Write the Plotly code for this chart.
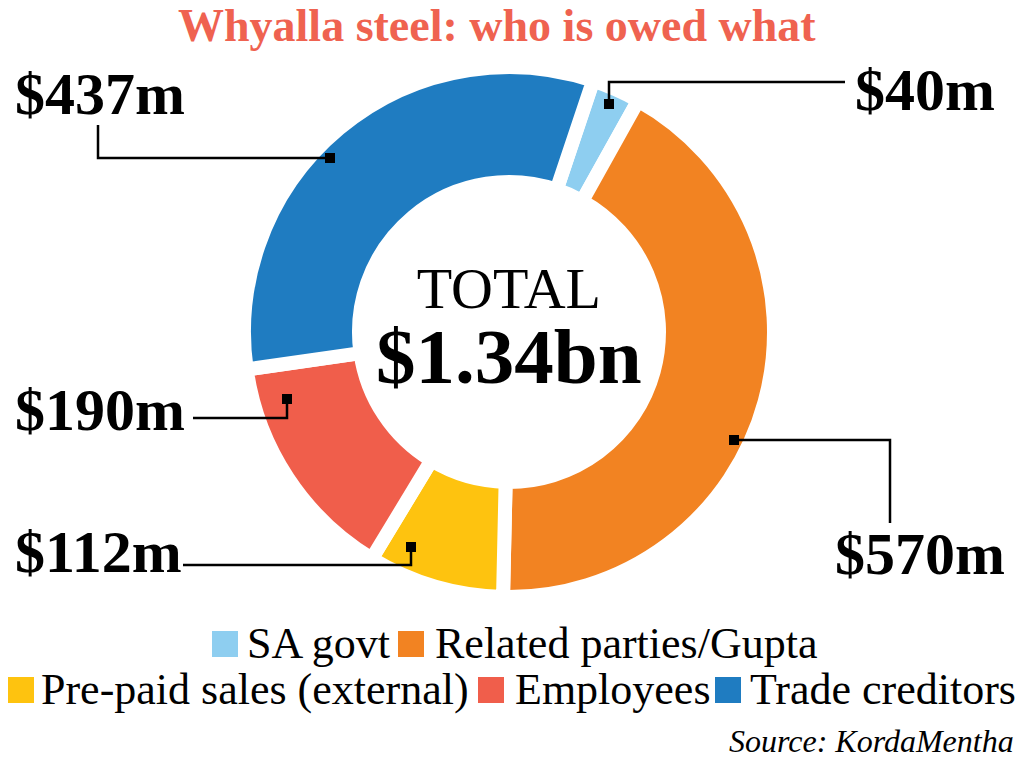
import plotly.graph_objects as go

# ---------------- data ----------------
categories = ["SA govt", "Related parties/Gupta", "Pre-paid sales (external)",
              "Employees", "Trade creditors"]
values_m = [40, 570, 112, 190, 437]
colors = ["#8ECEF0", "#F28322", "#FEC30F", "#F05E4B", "#1F7CC1"]
total_title = "TOTAL"
total_label = "$1.34bn"
title_text = "Whyalla steel: who is owed what"
source_text = "Source: KordaMentha"

# ---------------- layout constants (pixels, page coordinates) ----------------
OFF = 8                      # default page body margin
W, H = 1024 - 2 * OFF, 768 - 2 * OFF
SERIF = "Liberation Serif, Times New Roman, serif"


def pxx(x):
    return (x - OFF) / W


def pxy(y):
    return 1 - (y - OFF) / H


cx, cy, R = 509, 332, 265
hole = 0.566
gap = 14
rotation = 18.5

# leader lines: polyline points, label position (left x, center y)
leaders = {
    "SA govt": dict(pts=[(609, 104), (609, 82), (845, 82)], lab=(853, 90)),
    "Related parties/Gupta": dict(pts=[(734, 440), (890, 440), (890, 523)], lab=(833, 554)),
    "Pre-paid sales (external)": dict(pts=[(411, 547), (411, 565), (183, 565)], lab=(13, 552)),
    "Employees": dict(pts=[(287, 399), (287, 418), (193, 418)], lab=(13, 410)),
    "Trade creditors": dict(pts=[(330, 158), (98, 158), (98, 125)], lab=(13, 94)),
}

# legend layout: (square left x, text left x, row baseline y)
legend_pos = {
    "SA govt": (212, 246, 658),
    "Related parties/Gupta": (398, 434, 658),
    "Pre-paid sales (external)": (8, 40, 704),
    "Employees": (478, 514, 704),
    "Trade creditors": (715, 749, 704),
}
SQ = 26

fig = go.Figure()
fig.add_trace(go.Pie(
    labels=categories,
    values=values_m,
    marker=dict(colors=colors, line=dict(color="white", width=gap)),
    hole=hole,
    sort=False,
    direction="clockwise",
    rotation=rotation,
    textinfo="none",
    hoverinfo="label+value",
    showlegend=False,
    domain=dict(x=[pxx(cx - R), pxx(cx + R)], y=[pxy(cy + R), pxy(cy - R)]),
))

shapes = []
annotations = []

for cat, val in zip(categories, values_m):
    ld = leaders[cat]
    pts = ld["pts"]
    path = "M " + " L ".join(f"{pxx(x):.5f},{pxy(y):.5f}" for x, y in pts)
    shapes.append(dict(type="path", xref="paper", yref="paper", path=path,
                       line=dict(color="black", width=2.5)))
    ax, ay = pts[0]
    shapes.append(dict(type="rect", xref="paper", yref="paper",
                       x0=pxx(ax - 5), x1=pxx(ax + 5), y0=pxy(ay + 5), y1=pxy(ay - 5),
                       fillcolor="black", line=dict(width=0)))
    lx, ly = ld["lab"]
    annotations.append(dict(text=f"${val}m", xref="paper", yref="paper",
                            x=pxx(lx), y=pxy(ly), xanchor="left", yanchor="middle",
                            showarrow=False,
                            font=dict(family=SERIF, size=60, color="black", weight="bold")))

# legend (manual)
for cat, col in zip(categories, colors):
    sx, tx, base = legend_pos[cat]
    shapes.append(dict(type="rect", xref="paper", yref="paper",
                       x0=pxx(sx), x1=pxx(sx + SQ), y0=pxy(base - 1), y1=pxy(base - 1 - SQ),
                       fillcolor=col, line=dict(width=0)))
    annotations.append(dict(text=cat, xref="paper", yref="paper",
                            x=pxx(tx), y=pxy(base - 0.3375 * 44), xanchor="left", yanchor="middle",
                            showarrow=False, borderpad=0,
                            font=dict(family=SERIF, size=44, color="black")))

# title
annotations.append(dict(text=title_text, xref="paper", yref="paper",
                        x=pxx(497), y=pxy(25), xanchor="center", yanchor="middle",
                        showarrow=False, borderpad=0,
                        font=dict(family=SERIF, size=46, color="#EF6250", weight="bold")))
# center text (two lines in one block)
annotations.append(dict(text=f"{total_title}<br><b><span style='font-size:79px'>{total_label}</span></b>",
                        xref="paper", yref="paper",
                        x=pxx(cx), y=pxy(328), xanchor="center", yanchor="middle",
                        showarrow=False, align="center",
                        font=dict(family=SERIF, size=58, color="black")))
# source
annotations.append(dict(text=f"<i>{source_text}</i>", xref="paper", yref="paper",
                        x=pxx(1015), y=pxy(741), xanchor="right", yanchor="middle",
                        showarrow=False, borderpad=0,
                        font=dict(family=SERIF, size=32, color="black")))

fig.update_layout(
    width=W, height=H,
    margin=dict(l=0, r=0, t=0, b=0),
    paper_bgcolor="white", plot_bgcolor="white",
    shapes=shapes, annotations=annotations,
    showlegend=False,
)

fig.write_html("out.html")
